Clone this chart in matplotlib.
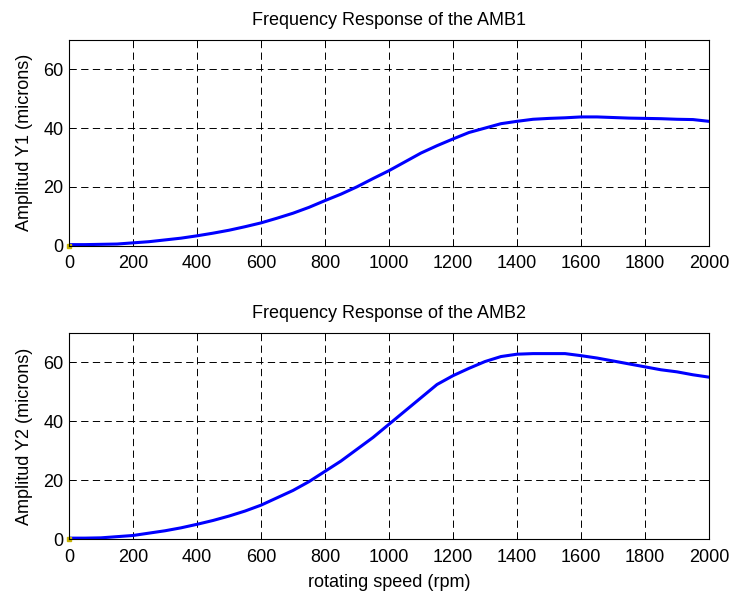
import matplotlib
matplotlib.use('agg')
import matplotlib.pyplot as plt
import numpy as np

plt.rcParams['font.family'] = ['Liberation Sans', 'DejaVu Sans']

# rotating speed samples (rpm)
rpm = [0, 50, 100, 150, 200, 250, 300, 350, 400, 450, 500, 550, 600, 650,
       700, 750, 800, 850, 900, 950, 1000, 1050, 1100, 1150, 1200, 1250,
       1300, 1350, 1400, 1450, 1500, 1550, 1600, 1650, 1700, 1750, 1800,
       1850, 1900, 1950, 2000]

# amplitude of AMB1 (microns)
amp_y1 = [0.3, 0.3, 0.4, 0.5, 0.9, 1.3, 1.9, 2.5, 3.3, 4.2, 5.2, 6.4, 7.7,
          9.3, 11.0, 13.0, 15.3, 17.5, 20.0, 22.8, 25.5, 28.5, 31.5, 34.0,
          36.3, 38.5, 40.0, 41.5, 42.3, 43.0, 43.3, 43.5, 43.8, 43.8, 43.6,
          43.4, 43.3, 43.2, 43.0, 42.9, 42.3]

# amplitude of AMB2 (microns)
amp_y2 = [0.3, 0.3, 0.4, 0.8, 1.2, 2.0, 2.8, 3.8, 5.0, 6.3, 7.8, 9.5, 11.5,
          14.0, 16.5, 19.5, 23.0, 26.5, 30.5, 34.5, 39.0, 43.5, 48.0, 52.5,
          55.5, 58.0, 60.3, 62.0, 62.8, 63.0, 63.0, 63.0, 62.3, 61.5, 60.5,
          59.5, 58.5, 57.5, 56.8, 55.8, 55.0]

# small yellow point sitting at the origin of both plots
origin_x = [0]
origin_y = [0]

xticks = np.arange(0, 2001, 200)
yticks = [0, 20, 40, 60]

fs = 13

fig = plt.figure(figsize=(7.31, 5.92), dpi=100)
ax1 = fig.add_axes([0.0944, 0.5853, 0.8755, 0.3471])
ax2 = fig.add_axes([0.0944, 0.0895, 0.8755, 0.3480])


def style_axes(ax, title, ylabel):
    ax.set_xlim(0, 2000)
    ax.set_ylim(0, 70)
    ax.set_xticks(xticks)
    ax.set_yticks(yticks)
    ax.grid(True, color='black', linestyle=(0, (7.5, 4.5)), linewidth=0.7)
    ax.tick_params(direction='in', top=True, right=True, labelsize=fs,
                   length=4, width=0.7)
    ax.tick_params(axis='x', pad=7)
    ax.tick_params(axis='y', pad=4)
    for s in ax.spines.values():
        s.set_linewidth(0.8)
    ax.set_title(title, fontsize=fs, pad=11)
    ax.set_ylabel(ylabel, fontsize=fs, labelpad=7)


ax1.plot(rpm, amp_y1, color='#0000ff', linewidth=2.2)
ax1.plot(origin_x, origin_y, 's', color='#c8b400', markersize=3,
         clip_on=False)
style_axes(ax1, 'Frequency Response of the AMB1', 'Amplitud Y1 (microns)')

ax2.plot(rpm, amp_y2, color='#0000ff', linewidth=2.2)
ax2.plot(origin_x, origin_y, 's', color='#c8b400', markersize=3,
         clip_on=False)
style_axes(ax2, 'Frequency Response of the AMB2', 'Amplitud Y2 (microns)')
ax2.set_xlabel('rotating speed (rpm)', fontsize=fs, labelpad=6)

fig.savefig('out.png', dpi=100)
